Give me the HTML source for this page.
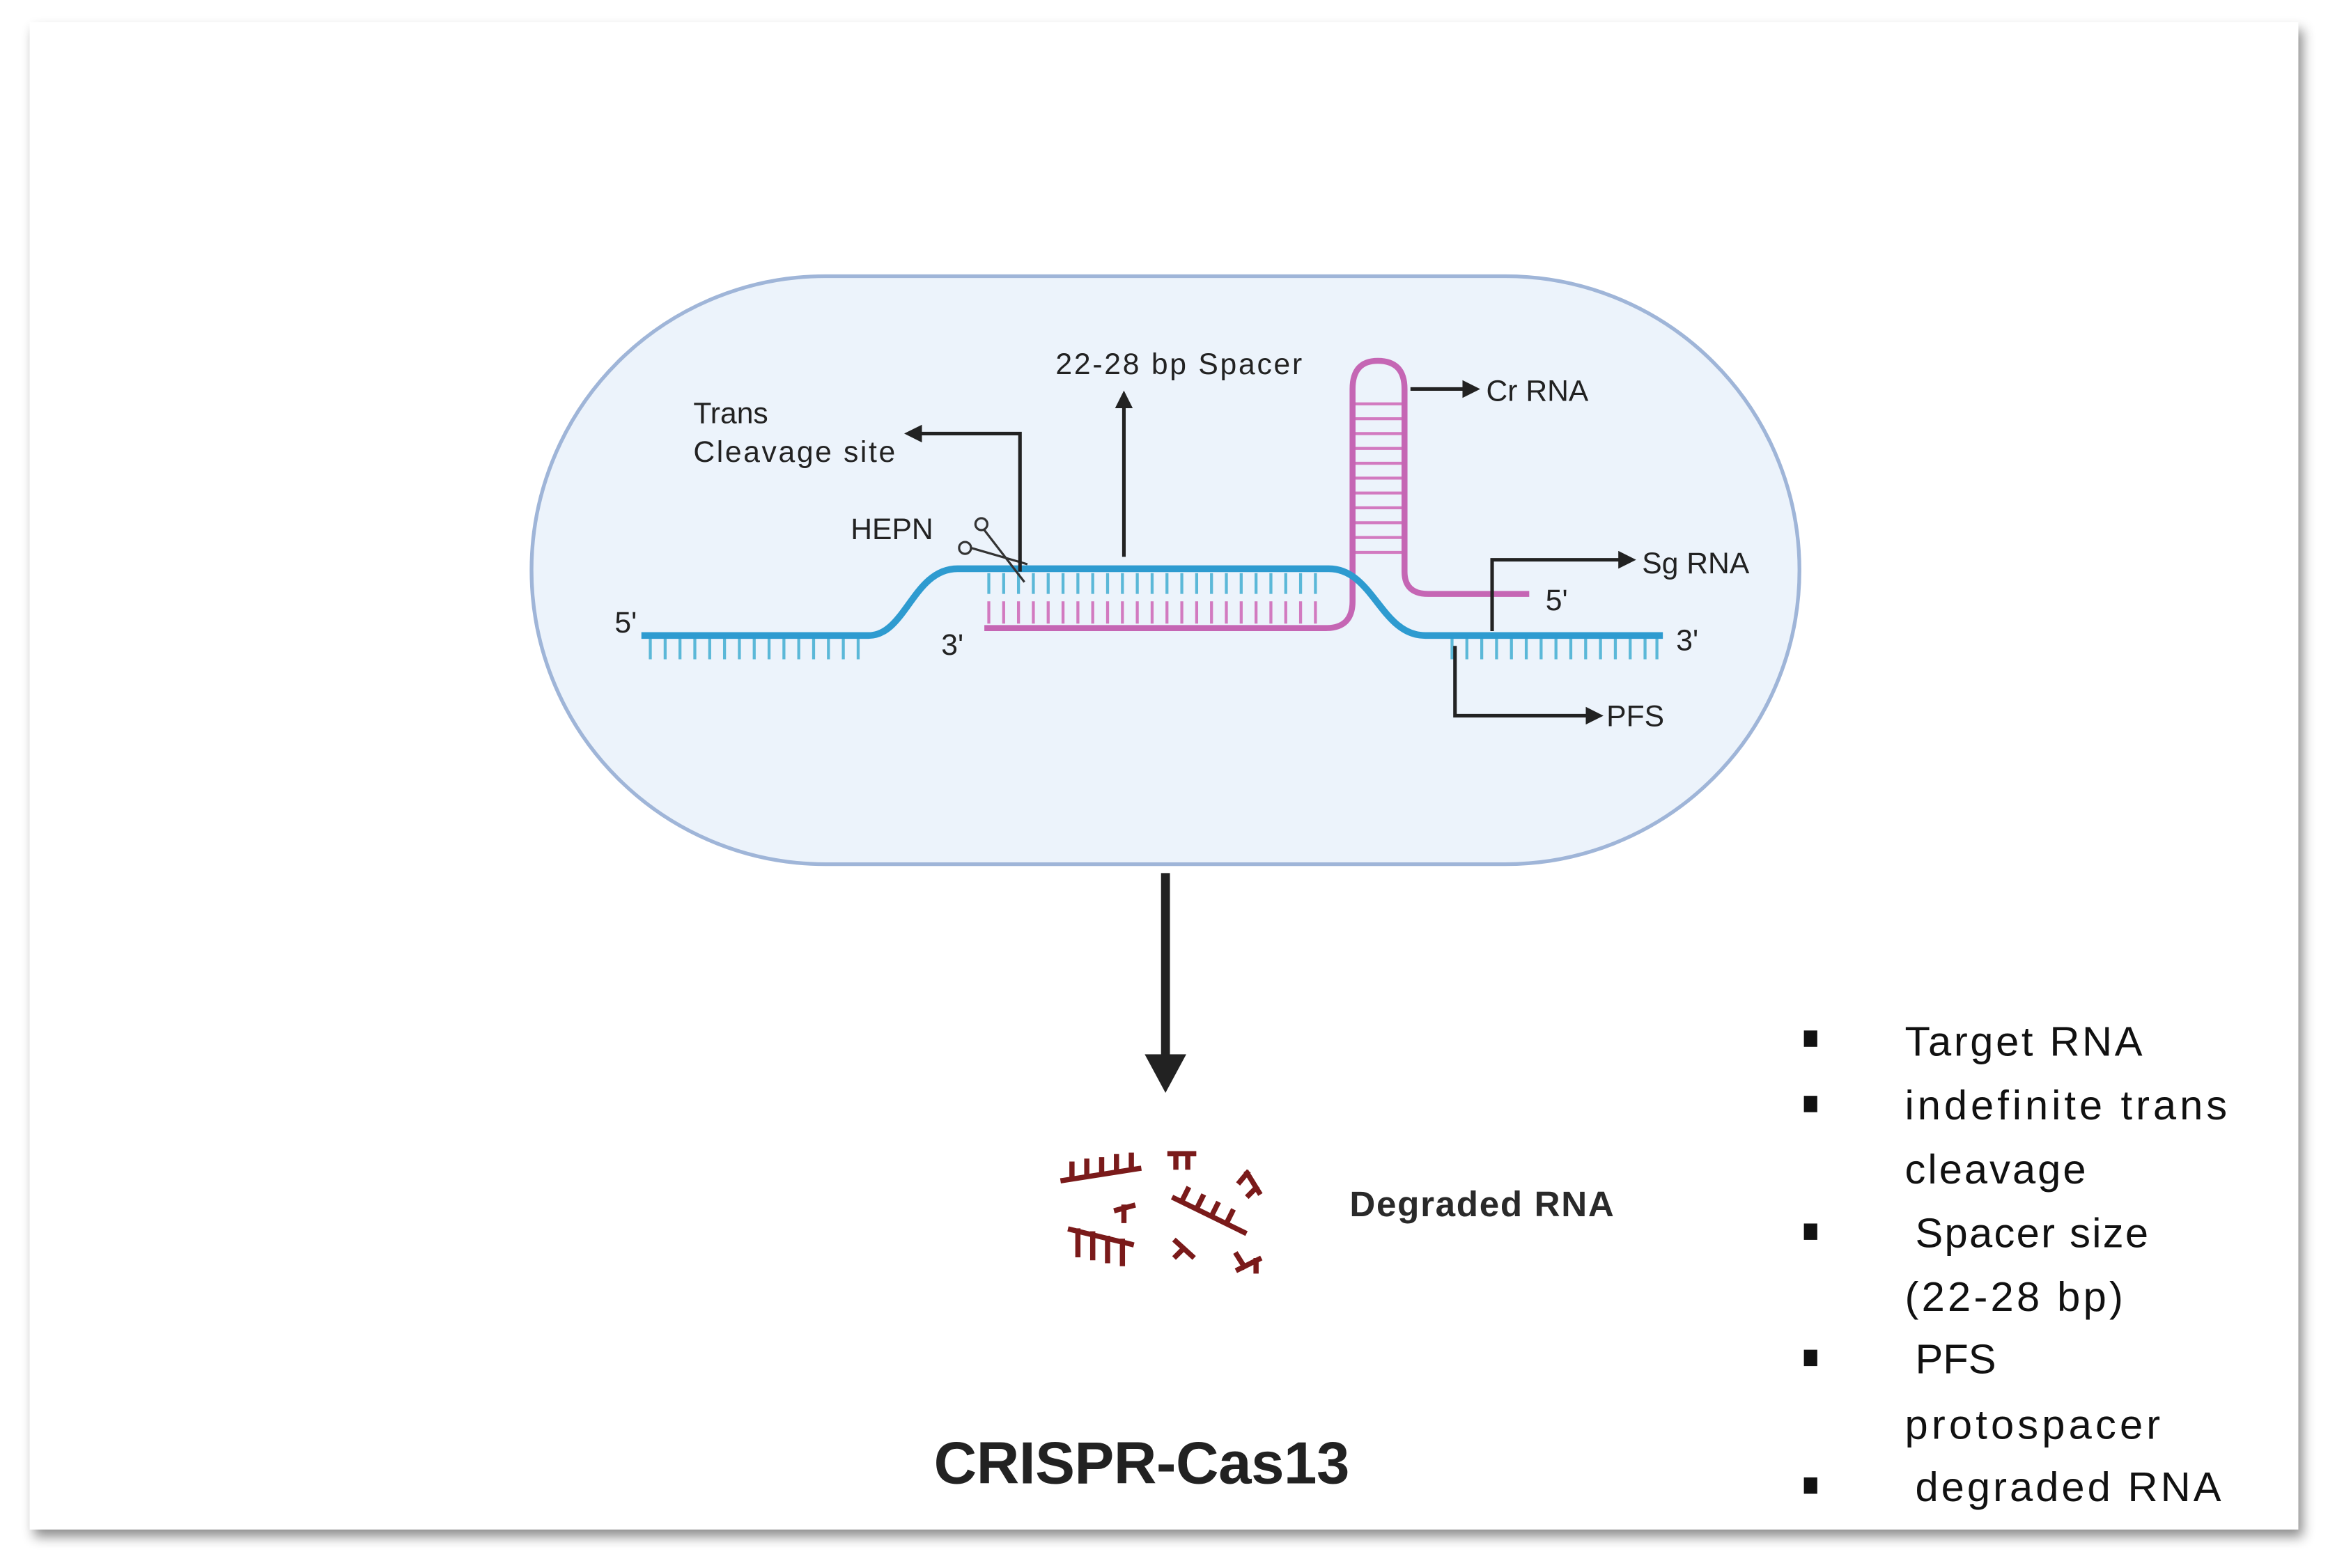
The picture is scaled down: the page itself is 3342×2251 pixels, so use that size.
<!DOCTYPE html>
<html><head><meta charset="utf-8"><style>
html,body{margin:0;padding:0;background:#fff;width:3342px;height:2251px;overflow:hidden}
svg{display:block}
</style></head><body>
<svg width="3342" height="2251" viewBox="0 0 1568 1056" preserveAspectRatio="none" xmlns="http://www.w3.org/2000/svg" font-family="Liberation Sans, sans-serif">
<defs>
<filter id="sh" x="-5%" y="-5%" width="110%" height="110%"><feDropShadow dx="3" dy="5" stdDeviation="4" flood-color="#000" flood-opacity="0.45"/></filter>
<marker id="ah" markerWidth="12" markerHeight="12" refX="9" refY="6" orient="auto" markerUnits="userSpaceOnUse"><path d="M0,0 L12,6 L0,12 z" fill="#222"/></marker>
</defs>
<rect x="20" y="15" width="1528" height="1015" fill="#fff" filter="url(#sh)"/>
<rect x="358" y="186" width="854" height="396" rx="198" ry="198" fill="#ecf3fb" stroke="#9fb5d8" stroke-width="2.5"/>
<g stroke="#5bb8d8" stroke-width="2">
<path d="M438,430V444M448,430V444M458,430V444M468,430V444M478,430V444M488,430V444M498,430V444M508,430V444M518,430V444M528,430V444M538,430V444M548,430V444M558,430V444M568,430V444M578,430V444"/>
<path d="M666,386V400M676,386V400M686,386V400M696,386V400M706,386V400M716,386V400M726,386V400M736,386V400M746,386V400M756,386V400M766,386V400M776,386V400M786,386V400M796,386V400M806,386V400M816,386V400M826,386V400M836,386V400M846,386V400M856,386V400M866,386V400M876,386V400M886,386V400"/>
<path d="M978,430V444M988,430V444M998,430V444M1008,430V444M1018,430V444M1028,430V444M1038,430V444M1048,430V444M1058,430V444M1068,430V444M1078,430V444M1088,430V444M1098,430V444M1108,430V444M1116,430V444"/>
</g>
<g stroke="#d27ac0" stroke-width="2">
<path d="M666,405V420M676,405V420M686,405V420M696,405V420M706,405V420M716,405V420M726,405V420M736,405V420M746,405V420M756,405V420M766,405V420M776,405V420M786,405V420M796,405V420M806,405V420M816,405V420M826,405V420M836,405V420M846,405V420M856,405V420M866,405V420M876,405V420M886,405V420"/>
<path d="M912,272H945M912,282H945M912,292H945M912,302H945M912,312H945M912,322H945M912,332H945M912,342H945M912,352H945M912,362H945M912,372H945"/>
</g>
<path d="M663,423H893Q911,423 911,405V262Q911,243 928,243Q946,243 946,262V385Q946,400 962,400H1030" fill="none" stroke="#c566b4" stroke-width="4"/>
<path d="M432,428H585C610,428 615,383 645,383H895C925,383 930,428 960,428H1120" fill="none" stroke="#2e9bd0" stroke-width="4.5"/>
<g stroke="#333" stroke-width="1.5" fill="none"><circle cx="661" cy="353" r="4"/><circle cx="650" cy="369" r="4"/><path d="M663,357L690,392M654,369L692,380"/></g>
<g stroke="#222" stroke-width="2.4" fill="none">
<path d="M687,385V292H612" marker-end="url(#ah)"/>
<path d="M757,375V266" marker-end="url(#ah)"/>
<path d="M950,262H994" marker-end="url(#ah)"/>
<path d="M1005,425V377H1099" marker-end="url(#ah)"/>
<path d="M980,435V482H1077" marker-end="url(#ah)"/>
</g>
<g fill="#222" font-size="20">
<text x="467" y="285">Trans</text>
<text x="467" y="311" textLength="136">Cleavage site</text>
<text x="711" y="252" textLength="166">22-28 bp Spacer</text>
<text x="1001" y="270">Cr RNA</text>
<text x="573" y="363">HEPN</text>
<text x="1106" y="386">Sg RNA</text>
<text x="1041" y="411">5'</text>
<text x="1129" y="438">3'</text>
<text x="414" y="426">5'</text>
<text x="634" y="441">3'</text>
<text x="1082" y="489">PFS</text>
</g>
<path d="M785,588V720" stroke="#222" stroke-width="6"/>
<path d="M771,710H799L785,736z" fill="#222"/>
<g stroke="#7a1a1a" stroke-width="3.5" fill="none" stroke-linecap="square">
<path d="M716,795L767,787M722,793V784M732,791V782M742,790V781M752,788V779M762,787V778"/>
<path d="M788,777H804M792,777V786M800,777V786"/>
<path d="M752,815L763,812M757,813V822"/>
<path d="M721,828L762,838M726,829V845M736,831V847M746,834V849M756,836V851"/>
<path d="M791,807L838,830M796,809L800,801M806,814L810,806M816,819L820,811M826,824L830,816"/>
<path d="M840,790L848,803M840,790L835,796M846,800L841,805"/>
<path d="M792,836L803,846M797,841L792,846"/>
<path d="M834,855L848,848M838,853L833,845M846,849V856"/>
</g>
<text x="909" y="819" font-size="24" font-weight="bold" fill="#2a2a2a" textLength="178">Degraded RNA</text>
<text x="629" y="999" font-size="40" font-weight="bold" fill="#222" textLength="280">CRISPR-Cas13</text>
<g fill="#111">
<rect x="1215" y="694" width="9" height="11"/>
<rect x="1215" y="738" width="9" height="11"/>
<rect x="1215" y="824" width="9" height="11"/>
<rect x="1215" y="909" width="9" height="11"/>
<rect x="1215" y="995" width="9" height="11"/>
</g>
<g fill="#111" font-size="28">
<text x="1283" y="711" textLength="160">Target RNA</text>
<text x="1283" y="754" textLength="217">indefinite trans</text>
<text x="1283" y="797" textLength="122">cleavage</text>
<text x="1290" y="840" textLength="157">Spacer size</text>
<text x="1283" y="883" textLength="147">(22-28 bp)</text>
<text x="1290" y="925">PFS</text>
<text x="1283" y="969" textLength="172">protospacer</text>
<text x="1290" y="1011" textLength="206">degraded RNA</text>
</g>
</svg>
</body></html>
